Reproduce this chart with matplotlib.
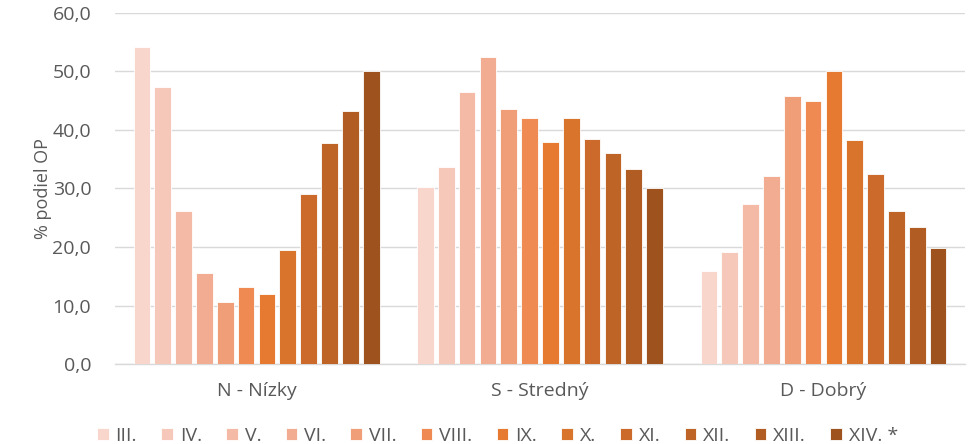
import matplotlib.pyplot as plt
import numpy as np

# categories and series (months III. .. XIV.)
groups = ['N - Nízky', 'S - Stredný', 'D - Dobrý']
series = ['III.', 'IV.', 'V.', 'VI.', 'VII.', 'VIII.', 'IX.', 'X.', 'XI.', 'XII.', 'XIII.', 'XIV. *']

n_vals = [54.1, 47.3, 26.2, 15.6, 10.6, 13.1, 11.9, 19.5, 29.0, 37.7, 43.3, 50.1]
s_vals = [30.2, 33.7, 46.4, 52.4, 43.5, 42.1, 38.0, 42.1, 38.5, 36.1, 33.4, 30.1]
d_vals = [15.9, 19.1, 27.4, 32.1, 45.8, 44.9, 50.1, 38.3, 32.5, 26.2, 23.4, 19.8]

colors = ['#F8D6CB', '#F6C8B9', '#F4BAA6', '#F2AC91', '#F09E78', '#EE8A52',
          '#E67A30', '#D9742C', '#CB6A2A', '#BF6427', '#B05C23', '#9E521E']

plt.rcParams['font.family'] = ['Open Sans', 'DejaVu Sans']

fig = plt.figure(figsize=(9.73, 4.44), dpi=100)
ax = fig.add_axes([0.118, 0.180, 0.874, 0.791])

data = np.array([n_vals, s_vals, d_vals])
x = np.arange(len(groups))
pitch = 0.0735
width = 0.059
for j, name in enumerate(series):
    ax.bar(x + (j - 5.5) * pitch, data[:, j], width, color=colors[j],
           edgecolor='white', linewidth=0.6, label=name, zorder=3)

ax.set_xlim(-0.5, 2.5)
ax.set_ylim(0, 60)
ax.set_yticks(np.arange(0, 61, 10))
ax.set_yticklabels([f'{v:.1f}'.replace('.', ',') for v in np.arange(0, 61, 10)])
ax.set_xticks(x)
ax.set_xticklabels(groups)
ax.grid(axis='y', color='#D9D9D9', linewidth=1, zorder=0)
for side in ['top', 'right', 'left']:
    ax.spines[side].set_visible(False)
ax.spines['bottom'].set_color('#D9D9D9')
ax.spines['bottom'].set_linewidth(1)
ax.tick_params(axis='both', length=0, colors='#595959', labelsize=14)
ax.tick_params(axis='x', pad=13)
ax.tick_params(axis='y', pad=17)
ax.set_ylabel('% podiel OP', color='#595959', fontsize=13, labelpad=0)

leg = ax.legend(loc='center', bbox_to_anchor=(0.45, -0.205), ncol=12,
                frameon=False, fontsize=14, handlelength=0.6, handleheight=0.6,
                handletextpad=0.35, columnspacing=1.25, labelcolor='#595959')

fig.savefig('out.png', dpi=100)
